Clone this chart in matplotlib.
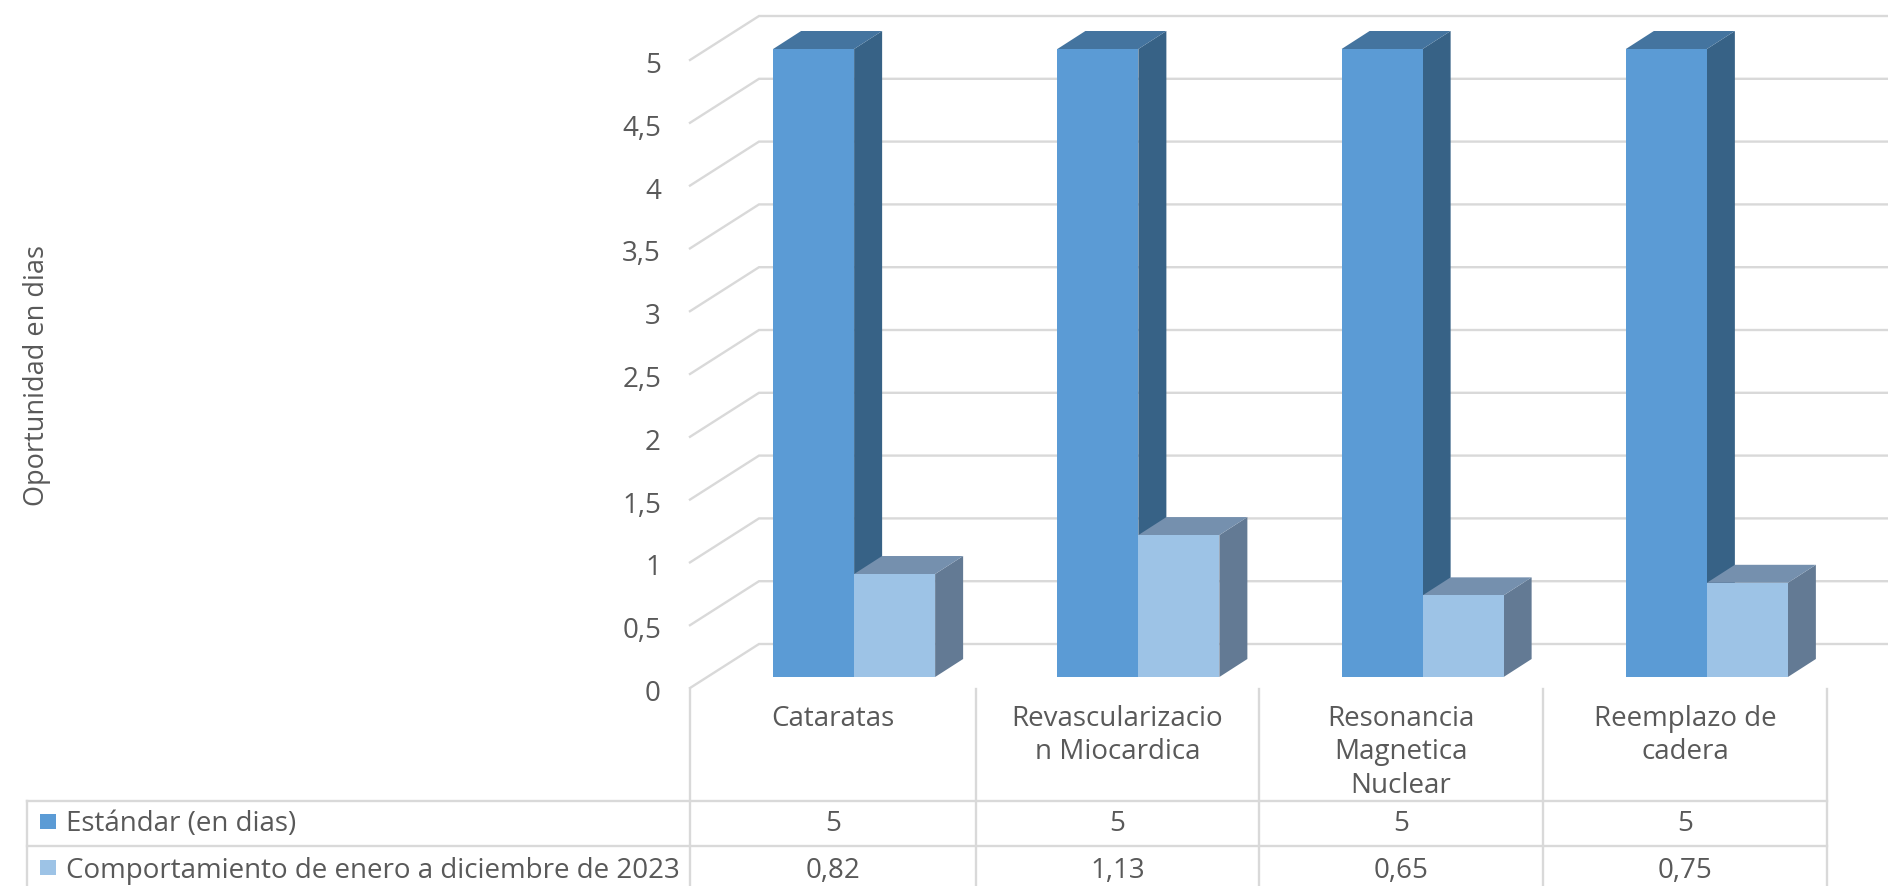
import matplotlib
matplotlib.use('Agg')
import matplotlib.pyplot as plt
from matplotlib.patches import Polygon, Rectangle
from matplotlib.lines import Line2D

categories = ['Cataratas', 'Revascularizacio\nn Miocardica', 'Resonancia\nMagnetica\nNuclear', 'Reemplazo de\ncadera']
estandar = [5, 5, 5, 5]
comportamiento = [0.82, 1.13, 0.65, 0.75]
estandar_labels = ['5', '5', '5', '5']
comportamiento_labels = ['0,82', '1,13', '0,65', '0,75']
y_ticks = [0, 0.5, 1, 1.5, 2, 2.5, 3, 3.5, 4, 4.5, 5]
y_tick_labels = ['0', '0,5', '1', '1,5', '2', '2,5', '3', '3,5', '4', '4,5', '5']
series_names = ['Estándar (en dias)', 'Comportamiento de enero a diciembre de 2023']

W = 1888
H = 887
TEXT = '#595959'
GRID = '#D9D9D9'
GRID_LW = 1.7
FONT = 'Open Sans'
FS = 20

plt.rcParams['font.family'] = FONT

fig = plt.figure(figsize=(W / 100, H / 100), dpi=100)

# axes = plano frontal de las barras (valor 0 en y=678, valor 5 en y=50)
left, right, bottom, top = 690, 1827, 678, 50
ax = fig.add_axes([left / W, 1 - bottom / H, (right - left) / W, (bottom - top) / H])
ax.set_xlim(-0.5, 3.5)
ax.set_ylim(0, 5)
ax.axis('off')

px = 4 / (right - left)       # un pixel en unidades de x
py = 5 / (bottom - top)       # un pixel en unidades de y


# para dibujar en coordenadas de pixel de la figura
def fx(x):
    return x / W


def fy(y):
    return 1 - y / H


# paredes: rejilla en profundidad
for v in y_ticks:
    front_x = -0.5
    back_x = -0.5 + 69 * px
    front_y = v - 11 * py
    back_y = v + 33 * py
    ax.plot([front_x, back_x, 3.5 + 61 * px], [front_y, back_y, back_y], color=GRID, lw=GRID_LW,
            clip_on=False, zorder=1, solid_joinstyle='miter')

bar_w = 81 * px
depth_x = 28 * px
depth_y = 18 * py
shift = 22 * px


def draw_bar(x0, value, front, top_c, side, z):
    x1 = x0 + bar_w
    ax.add_patch(Polygon([(x1, 0), (x1 + depth_x, depth_y), (x1 + depth_x, value + depth_y), (x1, value)],
                         closed=True, fc=side, ec='none', zorder=z, clip_on=False))
    ax.add_patch(Polygon([(x0, value), (x0 + depth_x, value + depth_y), (x1 + depth_x, value + depth_y), (x1, value)],
                         closed=True, fc=top_c, ec='none', zorder=z, clip_on=False))
    ax.bar(x0, value, width=bar_w, align='edge', color=front, zorder=z + 0.5, clip_on=False)


for i in range(len(categories)):
    center = i + shift
    draw_bar(center - bar_w, estandar[i], '#5B9BD5', '#44749F', '#376286', 3)
    draw_bar(center, comportamiento[i], '#9DC3E6', '#7590AE', '#637A94', 4)

# etiquetas del eje y
for v, lab in zip(y_ticks, y_tick_labels):
    ax.annotate(lab, xy=(-0.5, v - 16 * py), xytext=(661, 0), textcoords=('figure pixels', 'offset pixels'),
                ha='right', va='center', fontsize=FS, color=TEXT, annotation_clip=False)

fig.text(fx(37), fy(376), 'Oportunidad en dias', rotation=90, ha='center', va='center', fontsize=19.5, color=TEXT)

# tabla de datos
col_edges = [690, 976, 1259, 1543, 1827]
table_left = 27
row_lines = [802, 847]
for y in row_lines:
    fig.add_artist(Line2D([fx(table_left), fx(1827)], [fy(y), fy(y)], color=GRID, lw=GRID_LW))
fig.add_artist(Line2D([fx(table_left), fx(table_left)], [fy(802), fy(887)], color=GRID, lw=GRID_LW))
for x in col_edges:
    fig.add_artist(Line2D([fx(x), fx(x)], [fy(690), fy(887)], color=GRID, lw=GRID_LW))

line_h = 33.5
for i, cat in enumerate(categories):
    cx = (col_edges[i] + col_edges[i + 1]) / 2
    for j, part in enumerate(cat.split('\n')):
        fig.text(fx(cx), fy(719 + j * line_h), part, ha='center', va='center', fontsize=FS, color=TEXT)
    fig.text(fx(cx), fy(824), estandar_labels[i], ha='center', va='center', fontsize=FS, color=TEXT)
    fig.text(fx(cx), fy(871), comportamiento_labels[i], ha='center', va='center', fontsize=FS, color=TEXT)

fig.add_artist(Rectangle((fx(40), fy(830)), 16 / W, 15 / H, transform=fig.transFigure, fc='#5B9BD5', ec='none'))
fig.add_artist(Rectangle((fx(40), fy(876)), 16 / W, 15 / H, transform=fig.transFigure, fc='#9DC3E6', ec='none'))
fig.text(fx(66), fy(824), series_names[0], ha='left', va='center', fontsize=FS, color=TEXT)
fig.text(fx(66), fy(871), series_names[1], ha='left', va='center', fontsize=FS, color=TEXT)

fig.savefig('out.png', dpi=100)
